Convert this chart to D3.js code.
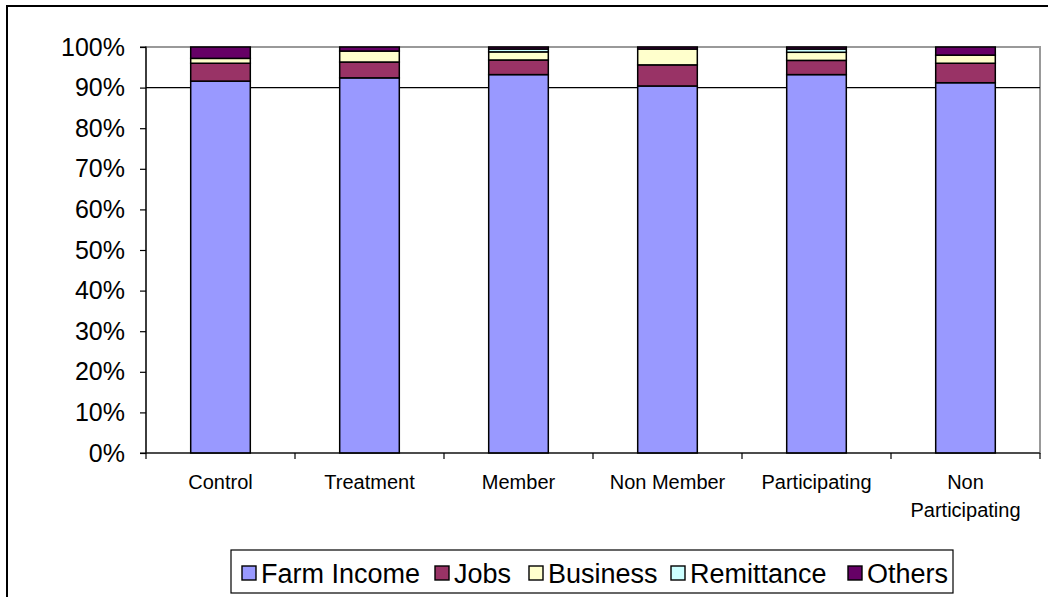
<!DOCTYPE html>
<html><head><meta charset="utf-8">
<script src="https://cdn.jsdelivr.net/npm/d3@7"></script>
<style>body{margin:0;background:#fff;} svg{display:block;font-family:"Liberation Sans",Arial,sans-serif;}</style>
</head><body>
<svg id="c" width="1048" height="597"></svg>
<script>
const categories = ["Control","Treatment","Member","Non Member","Participating","Non Participating"];
const seriesNames = ["Farm Income","Jobs","Business","Remittance","Others"];
const farmIncome = [91.6, 92.4, 93.2, 90.4, 93.2, 91.2];
const jobs       = [4.4, 3.9, 3.6, 5.2, 3.5, 4.8];
const business   = [1.2, 2.7, 2.0, 3.9, 2.0, 2.0];
const remittance = [0.0, 0.0, 0.7, 0.0, 0.8, 0.0];
const others     = [2.8, 1.0, 0.5, 0.5, 0.5, 2.0];
const colors = ["#9999ff","#993366","#ffffcc","#ccffff","#660066"];
const yTicks = [0,10,20,30,40,50,60,70,80,90,100];

const svg = d3.select("#c");
const seriesVals = [farmIncome, jobs, business, remittance, others];
const data = categories.map((c,i)=>{const o={cat:c}; seriesNames.forEach((s,j)=>o[s]=seriesVals[j][i]); return o;});
const stack = d3.stack().keys(seriesNames).offset(d3.stackOffsetExpand)(data);

const L=146, R=1040, T=47, B=453;
const x = d3.scaleBand().domain(categories).range([L,R]).paddingInner(0.6).paddingOuter(0.3);
const xc = d3.scaleBand().domain(categories).range([L,R]);
const y = d3.scaleLinear().domain([0,1]).range([B,T]);

// outer border
svg.append("rect").attr("x",7).attr("y",6).attr("width",1060).attr("height",620)
  .attr("fill","none").attr("stroke","#000").attr("stroke-width",2);

// plot area border (gray)
svg.append("rect").attr("x",L).attr("y",T).attr("width",R-L).attr("height",B-T)
  .attr("fill","none").attr("stroke","#999").attr("stroke-width",2);

// 90% gridline
svg.append("line").attr("x1",L).attr("x2",R).attr("y1",y(0.9)).attr("y2",y(0.9))
  .attr("stroke","#000").attr("stroke-width",1.2);

// bars
svg.append("g").selectAll("g").data(stack).join("g")
  .attr("fill",(d,i)=>colors[i])
  .selectAll("rect").data(d=>d).join("rect")
  .attr("x",d=>x(d.data.cat)).attr("width",x.bandwidth())
  .attr("y",d=>y(d[1])).attr("height",d=>Math.max(0,y(d[0])-y(d[1])))
  .attr("stroke","#000").attr("stroke-width",d=>(d[1]-d[0])>0.0001?1.5:0);

// y axis
const yAxis = d3.axisLeft(y).tickValues(yTicks.map(v=>v/100)).tickFormat(d=>Math.round(d*100)+"%").tickSize(6).tickPadding(15);
const gy = svg.append("g").attr("transform",`translate(${L},0)`).call(yAxis);
gy.select(".domain").attr("stroke","#000").attr("stroke-width",1.2).attr("d",`M-6,${T}H0V${B}H-6`);
gy.selectAll(".tick line").attr("stroke","#000").attr("stroke-width",1.2);
gy.selectAll(".tick text").attr("font-size",25).attr("fill","#000").attr("font-family","Liberation Sans, Arial, sans-serif");

// x axis
svg.append("line").attr("x1",L).attr("x2",R).attr("y1",B).attr("y2",B).attr("stroke","#000").attr("stroke-width",1.2);
const bounds = categories.map(c=>xc(c)).concat([R]);
svg.append("g").selectAll("line").data(bounds).join("line")
  .attr("x1",d=>d).attr("x2",d=>d).attr("y1",B).attr("y2",B+6).attr("stroke","#000").attr("stroke-width",1.2);
const labelLines = {"Non Participating":["Non","Participating"]};
const xl = svg.append("g").selectAll("text").data(categories).join("text")
  .attr("x",d=>xc(d)+xc.bandwidth()/2).attr("y",489)
  .attr("text-anchor","middle").attr("font-size",20).attr("fill","#000");
xl.each(function(d){
  const lines = labelLines[d] || [d];
  d3.select(this).selectAll("tspan").data(lines).join("tspan")
    .attr("x",xc(d)+xc.bandwidth()/2).attr("dy",(l,i)=>i===0?0:28).text(l=>l);
});

// legend
svg.append("rect").attr("x",231).attr("y",550).attr("width",722).attr("height",43)
  .attr("fill","#fff").attr("stroke","#000").attr("stroke-width",1.2);
const legX = [242, 435, 529, 671, 848];
const lg = svg.append("g").selectAll("g").data(seriesNames).join("g")
  .attr("transform",(d,i)=>`translate(${legX[i]},0)`);
lg.append("rect").attr("x",0).attr("y",566).attr("width",14).attr("height",14)
  .attr("fill",(d,i)=>colors[i]).attr("stroke","#000").attr("stroke-width",1.4);
lg.append("text").attr("x",19).attr("y",583).attr("font-size",27).attr("fill","#000").text(d=>d);
</script>
</body></html>
